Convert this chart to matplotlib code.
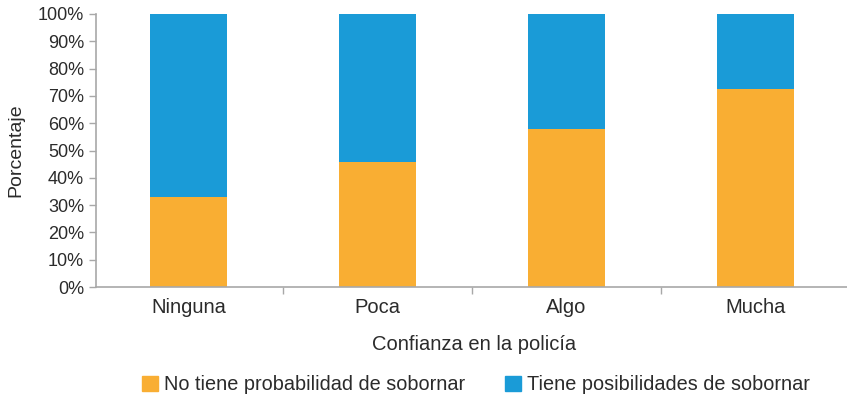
import matplotlib.pyplot as plt
from matplotlib.patches import Patch

# data
categories = ["Ninguna", "Poca", "Algo", "Mucha"]
no_soborna = [33.0, 45.8, 57.8, 72.7]
si_soborna = [100 - v for v in no_soborna]
legend_labels = ["No tiene probabilidad de sobornar", "Tiene posibilidades de sobornar"]

orange = "#F9AE33"
blue = "#1A9BD7"
grey = "#A8A8A8"
text_col = "#2B2B2B"

plt.rcParams["font.family"] = ["Liberation Sans", "DejaVu Sans"]

W, H = 847, 400
fig = plt.figure(figsize=(W / 100, H / 100), dpi=100)
ax = fig.add_axes([96 / W, (H - 287) / H, (852 - 96) / W, (287 - 14) / H])

x = range(len(categories))
ax.bar(x, no_soborna, width=0.41, color=orange, label=legend_labels[0])
ax.bar(x, si_soborna, bottom=no_soborna, width=0.41, color=blue, label=legend_labels[1])

ax.set_xlim(-0.49, 3.51)
ax.set_ylim(0, 100)
ax.set_yticks(range(0, 101, 10))
ax.set_yticklabels([f"{v}%" for v in range(0, 101, 10)])
ax.set_xticks(list(x))
ax.set_xticklabels(categories)
ax.set_xticks([0.5, 1.5, 2.5], minor=True)

for s in ["top", "right"]:
    ax.spines[s].set_visible(False)
for s in ["left", "bottom"]:
    ax.spines[s].set_color(grey)
    ax.spines[s].set_linewidth(1.2)

ax.tick_params(axis="y", colors=grey, labelcolor=text_col, labelsize=13, length=5, width=1)
ax.tick_params(axis="x", which="major", length=0, labelcolor=text_col, labelsize=14.5, pad=8)
ax.tick_params(axis="x", which="minor", length=5, color=grey, width=1)

ax.set_ylabel("Porcentaje", fontsize=14, color=text_col, labelpad=10)
ax.set_xlabel("Confianza en la policía", fontsize=14.5, color=text_col, labelpad=13)

handles = [Patch(color=orange), Patch(color=blue)]
fig.legend(handles, legend_labels, loc="center", bbox_to_anchor=(476 / W, 1 - 385 / H),
           ncol=2, frameon=False, fontsize=14.3, handlelength=0.8, handleheight=0.8,
           handletextpad=0.3, columnspacing=2.0, labelcolor=text_col)

fig.savefig("out.png", dpi=100)
